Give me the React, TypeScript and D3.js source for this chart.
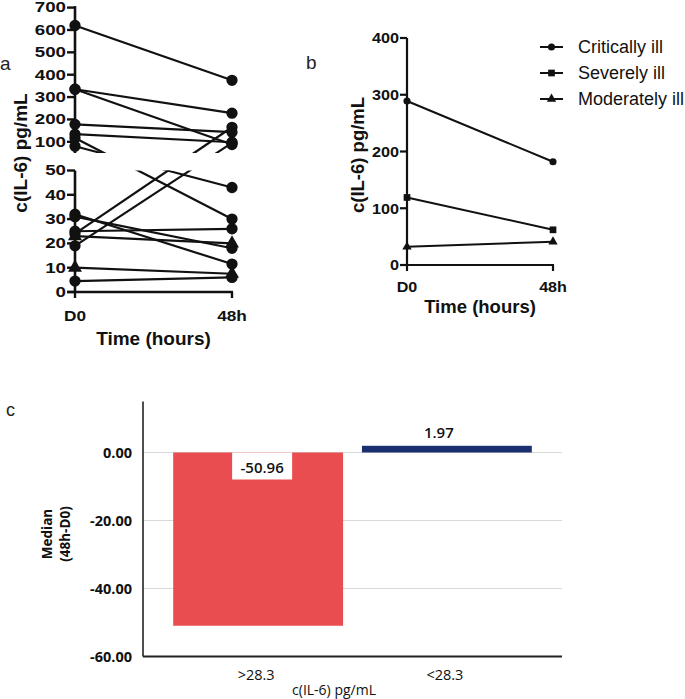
import React from 'react';
import * as d3 from 'd3';

// ---------- DATA ----------
const timePoints = ['D0', '48h'];
// panel a: individual patients (D0 -> 48h)
const aD0 = [620, 335, 335, 178, 134, 117, 80, 24, 19, 32, 31, 25, 23, 10, 4.5];
const a48h = [375, 228, 88, 143, 98, 30, 43, 165, 95, 11.5, 18, 26, 20, 7.5, 6];
const aShape = ['circle', 'circle', 'circle', 'circle', 'circle', 'circle', 'circle', 'circle', 'circle', 'circle', 'circle', 'circle', 'triangle', 'triangle', 'circle'];
const aTopTicks = [100, 200, 300, 400, 500, 600, 700];
const aBottomTicks = [0, 10, 20, 30, 40, 50];

// panel b: group medians
const bGroups = ['Critically ill', 'Severely ill', 'Moderately ill'];
const bD0 = [289, 119, 32];
const b48h = [182, 62, 41];
const bShapes = ['circle', 'square', 'triangle'];
const bTicks = [0, 100, 200, 300, 400];

// panel c: median change
const cCategories = ['>28.3', '<28.3'];
const cValues = [-50.96, 1.97];
const cTicks = [0, -20, -40, -60];
const cColors = ['#EA4D4F', '#1B2E6E'];

const ARIAL = '"Liberation Sans", Arial, sans-serif';
const CAL = '"Open Sans", "Liberation Sans", sans-serif';

function symbolPath(shape: string, size: number) {
  const t = shape === 'square' ? d3.symbolSquare : shape === 'triangle' ? d3.symbolTriangle : d3.symbolCircle;
  return d3.symbol().type(t).size(size)() as string;
}

function WideText({ x, y, anchor, children, size = 15, sx = 1.25 }: any) {
  return (
    <text
      transform={`translate(${x},${y}) scale(${sx},1)`}
      textAnchor={anchor}
      dominantBaseline="central"
      fontFamily={ARIAL}
      fontWeight="bold"
      fontSize={size}
      fill="#111"
    >
      {children}
    </text>
  );
}

function PanelA() {
  const x = d3.scalePoint<string>().domain(timePoints).range([75, 232]);
  const yTop = d3.scaleLinear().domain([50, 700]).range([153, 7.6]);
  const yBot = d3.scaleLinear().domain([0, 50]).range([292, 170.5]);
  const yOf = (v: number) => (v >= 50 ? yTop(v) : yBot(v));
  const line = d3.line<[number, number]>();
  return (
    <g>
      <defs>
        <clipPath id="aclip">
          <rect x={60} y={0} width={200} height={yTop(50) - 0} />
          <rect x={60} y={yBot(50)} width={200} height={300 - yBot(50)} />
        </clipPath>
      </defs>
      <text x={0} y={63} fontFamily={ARIAL} fontSize={19} dominantBaseline="central" fill="#222">a</text>
      <g clipPath="url(#aclip)">
        {aD0.map((v, i) => (
          <path
            key={i}
            d={line([[x('D0')!, yOf(v)], [x('48h')!, yOf(a48h[i])]]) as string}
            stroke="#111"
            strokeWidth={2.2}
            fill="none"
          />
        ))}
      </g>
      <line x1={x('D0')} x2={x('D0')} y1={yTop(700) - 1.5} y2={yTop(50)} stroke="#111" strokeWidth={2.6} />
      <line x1={x('D0')} x2={x('D0')} y1={yBot(50)} y2={yBot(0)} stroke="#111" strokeWidth={2.6} />
      {aTopTicks.map((t) => (
        <g key={t}>
          <line x1={x('D0')! - 8} x2={x('D0')} y1={yTop(t)} y2={yTop(t)} stroke="#111" strokeWidth={2.4} />
          <WideText x={x('D0')! - 9} y={yTop(t)} anchor="end">{t}</WideText>
        </g>
      ))}
      {aBottomTicks.map((t) => (
        <g key={t}>
          <line x1={x('D0')! - 8} x2={x('D0')} y1={yBot(t)} y2={yBot(t)} stroke="#111" strokeWidth={2.4} />
          <WideText x={x('D0')! - 9} y={yBot(t)} anchor="end">{t}</WideText>
        </g>
      ))}
      <line x1={x('D0')! - 8} x2={x('48h')! + 1} y1={yBot(0)} y2={yBot(0)} stroke="#111" strokeWidth={2.6} />
      {timePoints.map((tp) => (
        <g key={tp}>
          <line x1={x(tp)} x2={x(tp)} y1={yBot(0)} y2={yBot(0) + 6} stroke="#111" strokeWidth={2.4} />
          <WideText x={x(tp)} y={315} anchor="middle" size={15} sx={1.15}>{tp}</WideText>
        </g>
      ))}
      <text x={(x('D0')! + x('48h')!) / 2} y={338} textAnchor="middle" dominantBaseline="central" fontFamily={ARIAL} fontWeight="bold" fontSize={19} fill="#111">Time (hours)</text>
      <text transform={`translate(20,153) rotate(-90)`} textAnchor="middle" dominantBaseline="central" fontFamily={ARIAL} fontWeight="bold" fontSize={19} fill="#111">c(IL-6) pg/mL</text>
      {aD0.map((v, i) => (
        <g key={'m' + i}>
          <path d={symbolPath(aShape[i], aShape[i] === 'triangle' ? 85 : 100)} transform={`translate(${x('D0')},${yOf(v)})`} fill="#111" />
          <path d={symbolPath(aShape[i], aShape[i] === 'triangle' ? 85 : 100)} transform={`translate(${x('48h')},${yOf(a48h[i])})`} fill="#111" />
        </g>
      ))}
    </g>
  );
}

function PanelB() {
  const x = d3.scalePoint<string>().domain(timePoints).range([407, 553]);
  const y = d3.scaleLinear().domain([0, 400]).range([265, 38]);
  const line = d3.line<[number, number]>();
  const sizes: Record<string, number> = { circle: 40, square: 45, triangle: 38 };
  return (
    <g>
      <text x={306} y={62} fontFamily={ARIAL} fontSize={19} dominantBaseline="central" fill="#222">b</text>
      <line x1={x('D0')} x2={x('D0')} y1={y(400)} y2={y(0)} stroke="#111" strokeWidth={2.2} />
      {bTicks.map((t) => (
        <g key={t}>
          <line x1={x('D0')! - 7} x2={x('D0')} y1={y(t)} y2={y(t)} stroke="#111" strokeWidth={2.2} />
          <WideText x={x('D0')! - 8} y={y(t)} anchor="end" sx={1.08}>{t}</WideText>
        </g>
      ))}
      <line x1={x('D0')! - 7} x2={x('48h')! + 1} y1={y(0)} y2={y(0)} stroke="#111" strokeWidth={2.2} />
      {timePoints.map((tp) => (
        <g key={tp}>
          <line x1={x(tp)} x2={x(tp)} y1={y(0)} y2={y(0) + 6} stroke="#111" strokeWidth={2.2} />
          <WideText x={x(tp)} y={287} anchor="middle" size={14} sx={1.15}>{tp}</WideText>
        </g>
      ))}
      <text x={(x('D0')! + x('48h')!) / 2} y={306} textAnchor="middle" dominantBaseline="central" fontFamily={ARIAL} fontWeight="bold" fontSize={18.5} fill="#111">Time (hours)</text>
      <text transform={`translate(357,155) rotate(-90)`} textAnchor="middle" dominantBaseline="central" fontFamily={ARIAL} fontWeight="bold" fontSize={18.5} fill="#111">c(IL-6) pg/mL</text>
      {bGroups.map((g, i) => (
        <g key={g}>
          <path d={line([[x('D0')!, y(bD0[i])], [x('48h')!, y(b48h[i])]]) as string} stroke="#111" strokeWidth={2} fill="none" />
          <path d={symbolPath(bShapes[i], sizes[bShapes[i]])} transform={`translate(${x('D0')},${y(bD0[i])})`} fill="#111" />
          <path d={symbolPath(bShapes[i], sizes[bShapes[i]])} transform={`translate(${x('48h')},${y(b48h[i])})`} fill="#111" />
        </g>
      ))}
      {bGroups.map((g, i) => {
        const ly = 47 + i * 26;
        return (
          <g key={'l' + g}>
            <line x1={540} x2={563} y1={ly} y2={ly} stroke="#111" strokeWidth={2} />
            <path d={symbolPath(bShapes[i], sizes[bShapes[i]])} transform={`translate(551.5,${ly})`} fill="#111" />
            <text x={578} y={ly} dominantBaseline="central" fontFamily={ARIAL} fontSize={18} fill="#111">{g}</text>
          </g>
        );
      })}
    </g>
  );
}

function PanelC() {
  const x = d3.scaleBand<string>().domain(cCategories).range([143, 562]).paddingInner(0.1).paddingOuter(0.16);
  const y = d3.scaleLinear().domain([-60, 15]).range([656.5, 401.5]);
  return (
    <g>
      <text x={6} y={410} fontFamily={ARIAL} fontSize={18} dominantBaseline="central" fill="#222">c</text>
      {cTicks.filter((t) => t !== -60).map((t) => (
        <line key={t} x1={143} x2={562} y1={y(t)} y2={y(t)} stroke="#d9d9d9" strokeWidth={1.2} />
      ))}
      {cCategories.map((c, i) => {
        const v = cValues[i];
        const y0 = y(Math.max(0, v));
        const h = Math.abs(y(v) - y(0));
        return <rect key={c} x={x(c)} y={y0} width={x.bandwidth()} height={h} fill={cColors[i]} />;
      })}
      {cCategories.map((c, i) => {
        const v = cValues[i];
        const cx = x(c)! + x.bandwidth() / 2 + (v < 0 ? 4 : -8);
        if (v < 0) {
          return (
            <g key={'v' + c}>
              <rect x={cx - 30} y={y(0)} width={60} height={27} fill="#fff" />
              <text x={cx} y={y(0) + 14} textAnchor="middle" dominantBaseline="central" fontFamily={CAL} fontWeight={600} fontSize={15} fill="#111">{v.toFixed(2)}</text>
            </g>
          );
        }
        return (
          <text key={'v' + c} x={cx} y={y(v) - 14} textAnchor="middle" dominantBaseline="central" fontFamily={CAL} fontWeight={600} fontSize={15} fill="#111">{v.toFixed(2)}</text>
        );
      })}
      <line x1={143} x2={143} y1={y(15)} y2={y(-60)} stroke="#222" strokeWidth={1.6} />
      <line x1={143} x2={562} y1={y(-60)} y2={y(-60)} stroke="#222" strokeWidth={1.8} />
      {cTicks.map((t) => (
        <text key={t} x={132} y={y(t)} textAnchor="end" dominantBaseline="central" fontFamily={CAL} fontWeight="bold" fontSize={14.5} fill="#111">{t.toFixed(2)}</text>
      ))}
      {cCategories.map((c) => (
        <text key={'c' + c} x={x(c)! + x.bandwidth() / 2 - 2} y={674} textAnchor="middle" dominantBaseline="central" fontFamily={CAL} fontSize={14.5} fill="#111">{c}</text>
      ))}
      <text x={334} y={689} textAnchor="middle" dominantBaseline="central" fontFamily={CAL} fontSize={14} fill="#111">c(IL-6) pg/mL</text>
      <text transform="translate(47,534) rotate(-90)" textAnchor="middle" dominantBaseline="central" fontFamily={CAL} fontWeight="bold" fontSize={13.5} fill="#111">Median</text>
      <text transform="translate(65,534) rotate(-90)" textAnchor="middle" dominantBaseline="central" fontFamily={CAL} fontWeight="bold" fontSize={13.5} fill="#111">(48h-D0)</text>
    </g>
  );
}

export default function App() {
  return (
    <svg width={685} height={699} style={{ position: 'absolute', left: 0, top: 0, background: '#fff' }}>
      <rect width={685} height={699} fill="#fff" />
      <PanelA />
      <PanelB />
      <PanelC />
    </svg>
  );
}
